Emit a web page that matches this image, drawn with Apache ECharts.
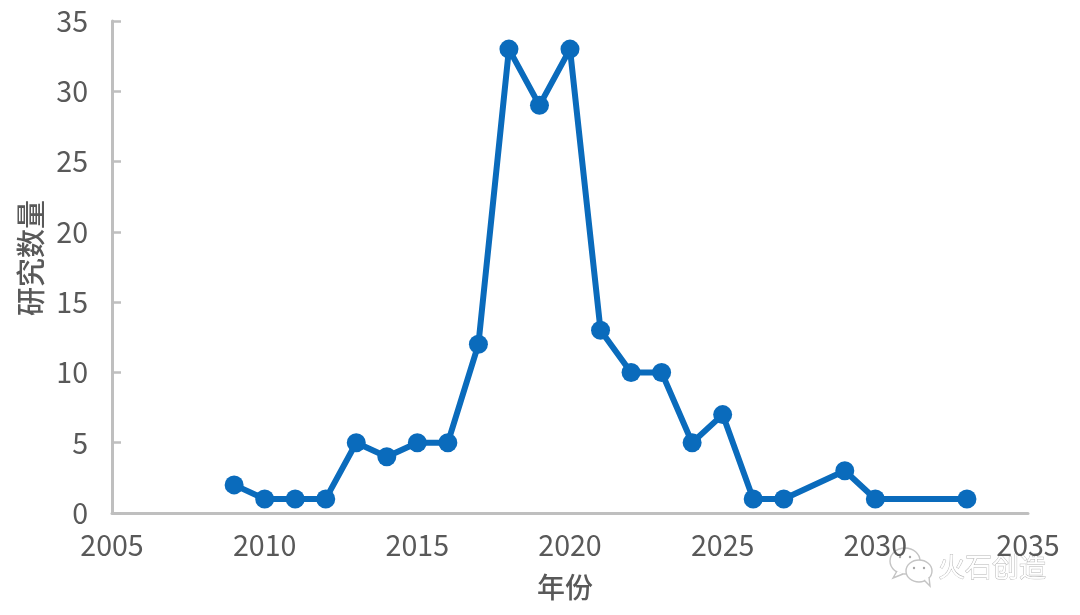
<!DOCTYPE html>
<html><head><meta charset="utf-8">
<style>html,body{margin:0;padding:0;background:#fff}#c{width:1080px;height:615px}</style>
<script src="https://cdn.jsdelivr.net/npm/echarts@6/dist/echarts.min.js"></script></head>
<body><div id="c"></div>
<script>
const years=[2009,2010,2011,2012,2013,2014,2015,2016,2017,2018,2019,2020,2021,2022,2023,2024,2025,2026,2027,2029,2030,2033];
const counts=[2,1,1,1,5,4,5,5,12,33,29,33,13,10,10,5,7,1,1,3,1,1];
const xTitle='年份', yTitle='研究数量', watermark='火石创造';
const chart=echarts.init(document.getElementById('c'),null,{renderer:'canvas'});
const font='"Noto Sans CJK SC","Noto Sans",sans-serif';
const grey='#bfbfbf', mark='#c4c4c4', blue='#0a6bbc';
const lbl={color:'#595959',fontSize:28.6,fontFamily:font};
const ttl={color:'#595959',fontSize:28,fontFamily:font,fontWeight:500};
const bubble=(cx,cy,rx,ry)=>({type:'ellipse',shape:{cx,cy,rx,ry},style:{fill:'#fff',stroke:mark,lineWidth:1.4}});
const tail=(points)=>({type:'polyline',shape:{points},style:{fill:'#fff',stroke:mark,lineWidth:1.4}});
const dot=(cx,cy)=>({type:'circle',shape:{cx,cy,r:1.2},style:{fill:'#a6a6a6'}});
chart.setOption({
 animation:false,
 grid:{left:112,right:52,top:21,bottom:102,containLabel:false,outerBoundsMode:'none'},
 xAxis:{type:'value',min:2005,max:2035,interval:5,splitLine:{show:false},
  axisLine:{show:true,lineStyle:{color:grey,width:3}},axisTick:{show:false},
  axisLabel:{...lbl,margin:18,formatter:v=>String(v)},
  name:xTitle,nameLocation:'middle',nameGap:60,nameTextStyle:{...ttl,padding:[0,10,0,0]}},
 yAxis:{type:'value',min:0,max:35,interval:5,splitLine:{show:false},
  axisLine:{show:true,lineStyle:{color:grey,width:3}},
  axisTick:{show:true,inside:true,length:9,lineStyle:{color:grey,width:2.5}},
  axisLabel:{...lbl,margin:24},
  name:yTitle,nameLocation:'middle',nameGap:67,nameTextStyle:{...ttl,fontSize:29,padding:[0,0,0,18]}},
 graphic:[
  bubble(905,561,15,13),tail([[897,571],[893,578],[903,574]]),
  dot(900,557),dot(910,557),
  bubble(919,571,13,11),tail([[924,580],[930,586],[929,577]]),
  dot(914,568),dot(924,568),
  {type:'text',x:938,y:553,style:{text:watermark,fill:'#fff',stroke:'#b4b4b4',lineWidth:0.9,font:'27px '+font}}
 ],
 series:[{type:'line',data:years.map((y,i)=>[y,counts[i]]),symbol:'circle',symbolSize:19,
  lineStyle:{color:blue,width:6},itemStyle:{color:blue}}]
});
</script></body></html>
